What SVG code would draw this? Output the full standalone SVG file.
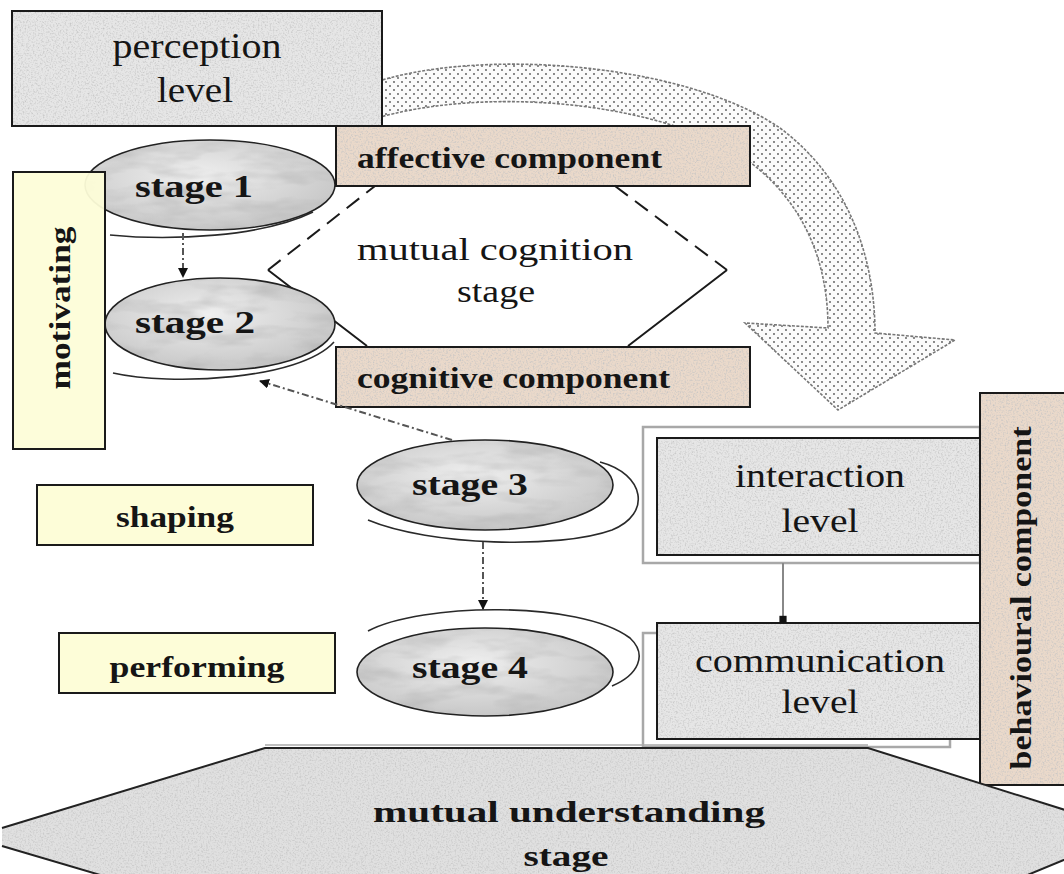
<svg xmlns="http://www.w3.org/2000/svg" width="1064" height="874" viewBox="0 0 1064 874">
<defs>
<style>
.t{font-family:"Liberation Serif","Times New Roman",serif;fill:#151515}
.b{font-weight:bold}
.edge{fill:none;stroke:#1a1a1a;stroke-width:2}
.gray{fill:#e6e6e6}
.tan{fill:#ead9ca}
.yel{fill:#fdfdd8}
.ofill{fill:url(#og)}
.oline{fill:none;stroke:#222;stroke-width:1.6}
.ring{fill:none;stroke:#2a2a2a;stroke-width:1.6}
.dd{fill:none;stroke:#555;stroke-width:2;stroke-dasharray:7 3 2 3}
.frame{fill:none;stroke:#a8a8a8;stroke-width:2.5}
</style>
<radialGradient id="og" cx="0.45" cy="0.4" r="0.65">
<stop offset="0" stop-color="#efefef"/>
<stop offset="1" stop-color="#c4c4c4"/>
</radialGradient>
<pattern id="dots" width="8" height="8" patternUnits="userSpaceOnUse">
<rect width="8" height="8" fill="#fbfbfb"/>
<circle cx="2" cy="2" r="0.9" fill="#555"/>
<circle cx="6" cy="6" r="0.9" fill="#555"/>
</pattern>
<filter id="grain" x="0" y="0" width="1" height="1">
<feTurbulence type="fractalNoise" baseFrequency="0.6" numOctaves="2" seed="3" result="n"/>
<feColorMatrix in="n" type="matrix" values="0 0 0 0 0.55  0 0 0 0 0.55  0 0 0 0 0.55  2.2 0 0 0 -1.0" result="g"/>
<feComposite in="g" in2="SourceGraphic" operator="in" result="gc"/>
<feMerge><feMergeNode in="SourceGraphic"/><feMergeNode in="gc"/></feMerge>
</filter>
<filter id="marble" x="0" y="0" width="1" height="1">
<feTurbulence type="fractalNoise" baseFrequency="0.02 0.07" numOctaves="3" seed="7" result="n"/>
<feColorMatrix in="n" type="matrix" values="0 0 0 0 0.45  0 0 0 0 0.45  0 0 0 0 0.45  1.4 0 0 0 -0.6" result="g"/>
<feComposite in="g" in2="SourceGraphic" operator="in" result="gc"/>
<feMerge><feMergeNode in="SourceGraphic"/><feMergeNode in="gc"/></feMerge>
</filter>
<marker id="ah" viewBox="0 0 10 10" refX="9" refY="5" markerUnits="userSpaceOnUse" markerWidth="10" markerHeight="10" orient="auto">
<path d="M0,0 L10,5 L0,10 z" fill="#111"/>
</marker>
<marker id="sq" viewBox="0 0 10 10" refX="10" refY="5" markerUnits="userSpaceOnUse" markerWidth="9" markerHeight="9" orient="auto">
<rect x="2" y="1" width="8" height="8" fill="#111"/>
</marker>
</defs>
<rect width="1064" height="874" fill="#ffffff"/>

<g id="curved-arrow">
<path d="M370,84 C470,48 680,60 780,128 C850,180 875,260 875,333 L955,340 L838,410 L745,323 L828,328 C828,250 795,192 740,155 C650,100 480,86 370,120 Z" fill="url(#dots)" stroke="#777" stroke-width="1.6" stroke-dasharray="3 1.5"/>
</g>

<g id="mutual-cognition-stage">
<polygon points="268,270 375,186 615,186 727,270 628,346 367,346" fill="#ffffff" stroke="none"/>
<path class="edge" d="M727,270 L628,346 M367,346 L268,270" stroke-width="1.6"/>
<path class="edge" d="M268,270 L375,186 M615,186 L727,270" stroke-width="1.6" stroke-dasharray="16 9"/>
<text class="t" x="495" y="260" font-size="32" text-anchor="middle" textLength="276" lengthAdjust="spacingAndGlyphs">mutual cognition</text>
<text class="t" x="496" y="302" font-size="32" text-anchor="middle" textLength="78" lengthAdjust="spacingAndGlyphs">stage</text>
</g>

<g id="perception-level">
<rect class="gray" x="12" y="11" width="370" height="115" filter="url(#grain)"/>
<rect class="edge" x="12" y="11" width="370" height="115"/>
<text class="t" x="197" y="58" font-size="36" text-anchor="middle" textLength="169" lengthAdjust="spacingAndGlyphs">perception</text>
<text class="t" x="195" y="102" font-size="36" text-anchor="middle" textLength="76" lengthAdjust="spacingAndGlyphs">level</text>
</g>

<g id="stage-1">
<path class="ring" d="M110,235 C170,241 262,237 313,212"/>
<ellipse class="ofill" cx="210" cy="185" rx="125" ry="45" filter="url(#marble)"/>
<ellipse class="oline" cx="210" cy="185" rx="125" ry="45"/>
<text class="t b" x="135" y="197" font-size="32" textLength="118" lengthAdjust="spacingAndGlyphs">stage 1</text>
</g>

<g id="stage-2">
<path class="ring" d="M113,373 C170,386 300,380 334,342"/>
<ellipse class="ofill" cx="220" cy="324" rx="115" ry="46" filter="url(#marble)"/>
<ellipse class="oline" cx="220" cy="324" rx="115" ry="46"/>
<text class="t b" x="135" y="333" font-size="32" textLength="120" lengthAdjust="spacingAndGlyphs">stage 2</text>
</g>

<g id="affective-component">
<rect class="tan" x="336" y="126" width="414" height="60" filter="url(#grain)"/>
<rect class="edge" x="336" y="126" width="414" height="60"/>
<text class="t b" x="357" y="168" font-size="30" textLength="305" lengthAdjust="spacingAndGlyphs">affective component</text>
</g>

<g id="cognitive-component">
<rect class="tan" x="336" y="347" width="414" height="60" filter="url(#grain)"/>
<rect class="edge" x="336" y="347" width="414" height="60"/>
<text class="t b" x="357" y="388" font-size="30" textLength="313" lengthAdjust="spacingAndGlyphs">cognitive component</text>
</g>

<g id="motivating">
<rect class="yel" x="13" y="172" width="92" height="277" opacity="0.95"/>
<rect class="edge" x="13" y="172" width="92" height="277"/>
<text class="t b" transform="translate(70,308) rotate(-90)" x="0" y="0" font-size="30" text-anchor="middle" textLength="163" lengthAdjust="spacingAndGlyphs">motivating</text>
</g>

<g id="shaping">
<rect class="yel" x="37" y="485" width="276" height="60"/>
<rect class="edge" x="37" y="485" width="276" height="60"/>
<text class="t b" x="175" y="527" font-size="30" text-anchor="middle" textLength="118" lengthAdjust="spacingAndGlyphs">shaping</text>
</g>

<g id="performing">
<rect class="yel" x="59" y="633" width="276" height="60"/>
<rect class="edge" x="59" y="633" width="276" height="60"/>
<text class="t b" x="197" y="677" font-size="30" text-anchor="middle" textLength="175" lengthAdjust="spacingAndGlyphs">performing</text>
</g>

<g id="stage-3">
<path class="ring" d="M600,462 C645,474 652,514 612,530 C560,549 430,546 368,520"/>
<ellipse class="ofill" cx="485" cy="485" rx="128" ry="45" filter="url(#marble)"/>
<ellipse class="oline" cx="485" cy="485" rx="128" ry="45"/>
<text class="t b" x="412" y="495" font-size="32" textLength="116" lengthAdjust="spacingAndGlyphs">stage 3</text>
</g>

<g id="stage-4">
<path class="ring" d="M368,631 C420,603 580,600 630,638 C648,655 638,675 612,686"/>
<ellipse class="ofill" cx="485" cy="672" rx="128" ry="44" filter="url(#marble)"/>
<ellipse class="oline" cx="485" cy="672" rx="128" ry="44"/>
<text class="t b" x="412" y="678" font-size="32" textLength="116" lengthAdjust="spacingAndGlyphs">stage 4</text>
</g>

<g id="interaction-level">
<rect class="frame" x="643" y="427" width="337" height="136"/>
<rect class="gray" x="657" y="438" width="323" height="117" filter="url(#grain)"/>
<rect class="edge" x="657" y="438" width="323" height="117"/>
<text class="t" x="820" y="487" font-size="34" text-anchor="middle" textLength="170" lengthAdjust="spacingAndGlyphs">interaction</text>
<text class="t" x="820" y="532" font-size="34" text-anchor="middle" textLength="77" lengthAdjust="spacingAndGlyphs">level</text>
</g>

<g id="communication-level">
<rect class="frame" x="643" y="633" width="307" height="114"/>
<rect class="gray" x="657" y="623" width="323" height="116" filter="url(#grain)"/>
<rect class="edge" x="657" y="623" width="323" height="116"/>
<text class="t" x="820" y="672" font-size="34" text-anchor="middle" textLength="250" lengthAdjust="spacingAndGlyphs">communication</text>
<text class="t" x="820" y="713" font-size="34" text-anchor="middle" textLength="77" lengthAdjust="spacingAndGlyphs">level</text>
</g>

<g id="behavioural-component">
<rect class="tan" x="980" y="393" width="90" height="392" filter="url(#grain)"/>
<rect class="edge" x="980" y="393" width="90" height="392"/>
<text class="t b" transform="translate(1031,598) rotate(-90)" x="0" y="0" font-size="30" text-anchor="middle" textLength="343" lengthAdjust="spacingAndGlyphs">behavioural component</text>
</g>

<g id="mutual-understanding-stage">
<polygon points="265,748 868,748 1100,821 1100,845 967,900 185,900 2,846 2,828" fill="#e0e0e0" filter="url(#grain)"/>
<path d="M2,828 L265,748 L868,748 L1100,821 M1100,845 L967,900 M185,900 L2,846" fill="none" stroke="#222" stroke-width="2"/>
<line x1="265" y1="745" x2="868" y2="745" stroke="#aaa" stroke-width="1.5"/>
<text class="t b" x="569" y="822" font-size="30" text-anchor="middle" textLength="392" lengthAdjust="spacingAndGlyphs">mutual understanding</text>
<text class="t b" x="566" y="866" font-size="30" text-anchor="middle" textLength="85" lengthAdjust="spacingAndGlyphs">stage</text>
</g>

<g id="connectors">
<line class="dd" x1="183" y1="233" x2="183" y2="277" marker-end="url(#ah)"/>
<line class="dd" x1="452" y1="440" x2="260" y2="381" marker-end="url(#ah)"/>
<line class="dd" x1="483" y1="542" x2="483" y2="609" marker-end="url(#ah)"/>
<line x1="783" y1="563" x2="783" y2="623" stroke="#888" stroke-width="2" marker-end="url(#sq)"/>
</g>
</svg>
